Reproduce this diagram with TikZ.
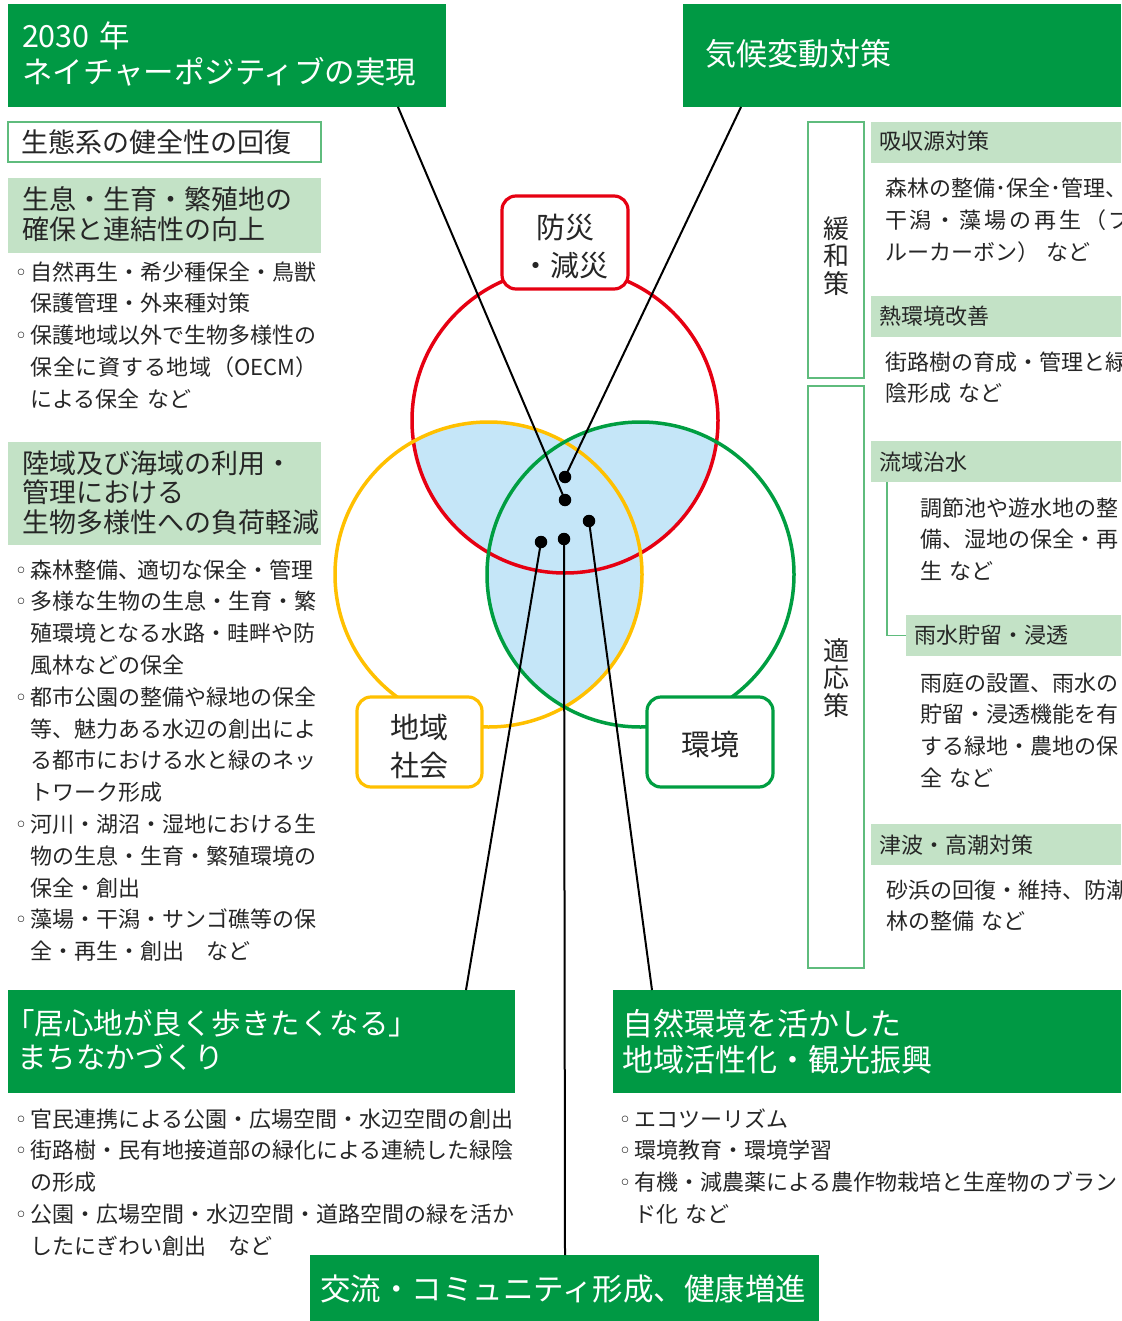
\documentclass[tikz,border=0pt]{standalone}
\usepackage{fontspec}
\setmainfont{Noto Sans CJK JP}
\newfontfamily\bulfont{DejaVu Sans}
\definecolor{dgreen}{RGB}{0,153,68}
\definecolor{lgreen}{RGB}{195,226,198}
\definecolor{bgreen}{RGB}{95,188,125}
\definecolor{cred}{RGB}{230,0,18}
\definecolor{cyel}{RGB}{255,192,0}
\definecolor{cgrn}{RGB}{0,158,65}
\definecolor{cblue}{RGB}{197,230,248}
\definecolor{txt}{RGB}{38,38,38}
\newcommand{\bl}{\makebox[12.5pt][l]{\kern-3.5pt\raisebox{0pt}{\bulfont\fontsize{22pt}{22pt}\selectfont ◦}}}
\newcommand{\ind}{\hspace*{12.5pt}}
\begin{document}
\begin{tikzpicture}[x=1pt,y=-1pt,
  every node/.style={inner sep=0pt,outer sep=0pt},
  darkbox/.style={rectangle,fill=dgreen,anchor=north west},
  lightbox/.style={rectangle,fill=lgreen,anchor=north west},
  framebox/.style={rectangle,draw=bgreen,line width=1.5pt,fill=white,anchor=north west},
  ttlA/.style={anchor=base west,text=white,align=left,text width=520pt,font=\fontsize{30.5pt}{36pt}\selectfont},
  ttlB/.style={anchor=base west,text=white,align=left,text width=520pt,font=\fontsize{31pt}{36pt}\selectfont},
  ttlC/.style={anchor=base west,text=white,align=left,text width=520pt,font=\fontsize{29.5pt}{34pt}\selectfont},
  hdrA/.style={anchor=base west,text=txt,align=left,text width=310pt,font=\fontsize{27pt}{30pt}\selectfont},
  hdrB/.style={anchor=base west,text=txt,align=left,text width=310pt,font=\fontsize{27pt}{29.5pt}\selectfont},
  lst/.style={anchor=base west,text=txt,align=left,text width=#1,font=\fontsize{22pt}{31.8pt}\selectfont},
  rhdr/.style={anchor=base west,text=txt,font=\fontsize{22pt}{26pt}\selectfont},
  vtxt/.style={align=center,text=txt,font=\fontsize{26pt}{27.5pt}\selectfont},
  venbox/.style={rectangle,rounded corners=14pt,line width=3.2pt,fill=white},
  venlbl/.style={align=center,text=txt,font=\fontsize{29pt}{38pt}\selectfont},
  conn/.style={draw=black,line width=2pt},
  dot/.style={circle,fill=black,minimum size=12.5pt},
  treeline/.style={draw=bgreen,line width=1.5pt},
  venn/.style={line width=3.5pt}
]
\path[use as bounding box,clip] (0,0) rectangle (1121,1321);
\fill[white] (0,0) rectangle (1121,1321);

% ---------- Venn diagram ----------
\begin{scope}
  \clip (565,420.5) ellipse [x radius=153pt,y radius=152.5pt];
  \fill[cblue] (488.5,574.5) ellipse [x radius=153.5pt,y radius=152.5pt]
               (640.5,574.5) ellipse [x radius=153.5pt,y radius=152.5pt];
\end{scope}
\begin{scope}
  \clip (488.5,574.5) ellipse [x radius=153.5pt,y radius=152.5pt];
  \fill[cblue] (640.5,574.5) ellipse [x radius=153.5pt,y radius=152.5pt];
\end{scope}
\draw[venn,cred] (565,420.5) ellipse [x radius=153pt,y radius=152.5pt];
\draw[venn,cyel] (488.5,574.5) ellipse [x radius=153.5pt,y radius=152.5pt];
\draw[venn,cgrn] (640.5,574.5) ellipse [x radius=153.5pt,y radius=152.5pt];

% ---------- top boxes ----------
\node[darkbox,minimum width=438pt,minimum height=103pt] (tl) at (8,4) {};
\node[ttlA] (tlt) at (22,48) {2030 年\\ネイチャーポジティブの実現};
\node[darkbox,minimum width=438pt,minimum height=103pt] (tr) at (683,4) {};
\node[ttlB] (trt) at (705,66) {気候変動対策};

% ---------- left column ----------
\node[framebox,minimum width=313pt,minimum height=40pt] (seitai) at (8,122) {};
\node[hdrA] (seitait) at (21,153) {生態系の健全性の回復};
\node[lightbox,minimum width=313pt,minimum height=75pt] (seisoku) at (8,178) {};
\node[hdrA] (seisokut) at (22,210) {生息・生育・繁殖地の\\確保と連結性の向上};
\node[lst=320pt] (list1) at (18,280) {\bl 自然再生・希少種保全・鳥獣\\
\ind 保護管理・外来種対策\\
\bl 保護地域以外で生物多様性の\\
\ind \makebox[287pt][s]{保\hfill 全\hfill に\hfill 資\hfill す\hfill る\hfill 地\hfill 域\hfill （OECM）}\\
\ind による保全 など};
\node[lightbox,minimum width=313pt,minimum height=103pt] (rikuiki) at (8,442) {};
\node[hdrB] (rikuikit) at (22,473) {陸域及び海域の利用・\\管理における\\生物多様性への負荷軽減};
\node[lst=320pt] (list2) at (18,578) {\bl 森林整備、\kern-3pt 適切な保全・管理\\
\bl 多様な生物の生息・生育・繁\\
\ind 殖環境となる水路・畦畔や防\\
\ind 風林などの保全\\
\bl 都市公園の整備や緑地の保全\\
\ind 等、魅力ある水辺の創出によ\\
\ind る都市における水と緑のネッ\\
\ind トワーク形成\\
\bl 河川・湖沼・湿地における生\\
\ind 物の生息・生育・繁殖環境の\\
\ind 保全・創出\\
\bl 藻場・干潟・サンゴ礁等の保\\
\ind 全・再生・創出　など};

% ---------- right column ----------
\node[framebox,minimum width=56pt,minimum height=256pt] (kanwa) at (808,122) {};
\node[vtxt] (kanwat) at (836,256) {緩\\和\\策};
\node[framebox,minimum width=56pt,minimum height=582pt] (tekiou) at (808,386) {};
\node[vtxt] (tekiout) at (836,678) {適\\応\\策};

\node[lightbox,minimum width=250pt,minimum height=41pt] (kyushu) at (871,122) {};
\node[rhdr] (kyushut) at (879,150) {吸収源対策};
\node[lst=300pt] (kyushub) at (885,197) {森林の整備･保全･管理、\\
\makebox[246pt][s]{干\hfill 潟\hfill ・\hfill 藻\hfill 場\hfill の\hfill 再\hfill 生\hfill （\hfill ブ}\\
ルーカーボン） など};
\node[lightbox,minimum width=250pt,minimum height=41pt] (netsu) at (871,296) {};
\node[rhdr] (netsut) at (879,324) {熱環境改善};
\node[lst=300pt] (netsub) at (885,370) {街路樹の育成・管理と緑\\陰形成 など};

\node[lightbox,minimum width=250pt,minimum height=41pt] (ryuiki) at (871,441) {};
\node[rhdr] (ryuikit) at (879,470) {流域治水};
\node[lst=300pt] (ryuikib) at (920,516) {調節池や遊水地の整\\備、湿地の保全・再\\生 など};
\node[lightbox,minimum width=215pt,minimum height=41pt] (usui) at (906,615) {};
\node[rhdr] (usuit) at (914,643) {雨水貯留・浸透};
\coordinate (treetop) at (887,482);
\draw[treeline] (treetop) |- (usui.west);
\node[lst=300pt] (usuib) at (920,691) {雨庭の設置、雨水の\\貯留・浸透機能を有\\する緑地・農地の保\\全 など};

\node[lightbox,minimum width=250pt,minimum height=41pt] (tsunami) at (871,824) {};
\node[rhdr] (tsunamit) at (879,853) {津波・高潮対策};
\node[lst=300pt] (tsunamib) at (886,898) {砂浜の回復・維持、防潮\\林の整備 など};

% ---------- bottom boxes ----------
\node[darkbox,minimum width=507pt,minimum height=103pt] (bl) at (8,990) {};
\node[ttlC] (blt) at (17,1034) {\kern-12pt「居心地が良く歩きたくなる」\\まちなかづくり};
\node[lst=540pt] (list3) at (18,1127) {\bl 官民連携による公園・広場空間・水辺空間の創出\\
\bl 街路樹・民有地接道部の緑化による連続した緑陰\\
\ind の形成\\
\bl 公園・広場空間・水辺空間・道路空間の緑を活か\\
\ind したにぎわい創出　など};

\node[darkbox,minimum width=508pt,minimum height=103pt] (br) at (613,990) {};
\node[ttlB] (brt) at (622,1035) {自然環境を活かした\\地域活性化・観光振興};
\node[lst=540pt] (list4) at (622,1127) {\bl エコツーリズム\\
\bl 環境教育・環境学習\\
\bl 有機・減農薬による農作物栽培と生産物のブラン\\
\ind ド化 など};

\node[darkbox,minimum width=509pt,minimum height=66pt] (ct) at (310,1255) {};
\node[ttlA] (ctt) at (320,1300) {交流・コミュニティ形成、健康増進};

% ---------- connectors ----------
\node[dot] (d1) at (565,477) {};
\node[dot] (d2) at (565,500) {};
\node[dot] (d3) at (589,521) {};
\node[dot] (d4) at (541,542) {};
\node[dot] (d5) at (564,539) {};
\coordinate (tlfoot) at (398,107);
\coordinate (trfoot) at (741,107);
\coordinate (blhead) at (466,990);
\coordinate (cthead) at (565,1255);
\coordinate (brhead) at (652,990);
\draw[conn] (tlfoot) -- (d2.center);
\draw[conn] (trfoot) -- (d1.center);
\draw[conn] (d4.center) -- (blhead);
\draw[conn] (d5.center) -- (cthead);
\draw[conn] (d3.center) -- (brhead);

% ---------- Venn labels ----------
\node[venbox,draw=cred,minimum width=126pt,minimum height=93pt] (bosai) at (565,242.5) {};
\node[venlbl] (bosait) at (565,247) {防災\\・減災};
\node[venbox,draw=cyel,minimum width=125pt,minimum height=90pt] (chiiki) at (419.5,742) {};
\node[venlbl] (chiikit) at (419.5,747) {地域\\社会};
\node[venbox,draw=cgrn,minimum width=126pt,minimum height=90pt] (kankyo) at (710,742) {};
\node[venlbl] (kankyot) at (710,744) {環境};
\end{tikzpicture}
\end{document}
